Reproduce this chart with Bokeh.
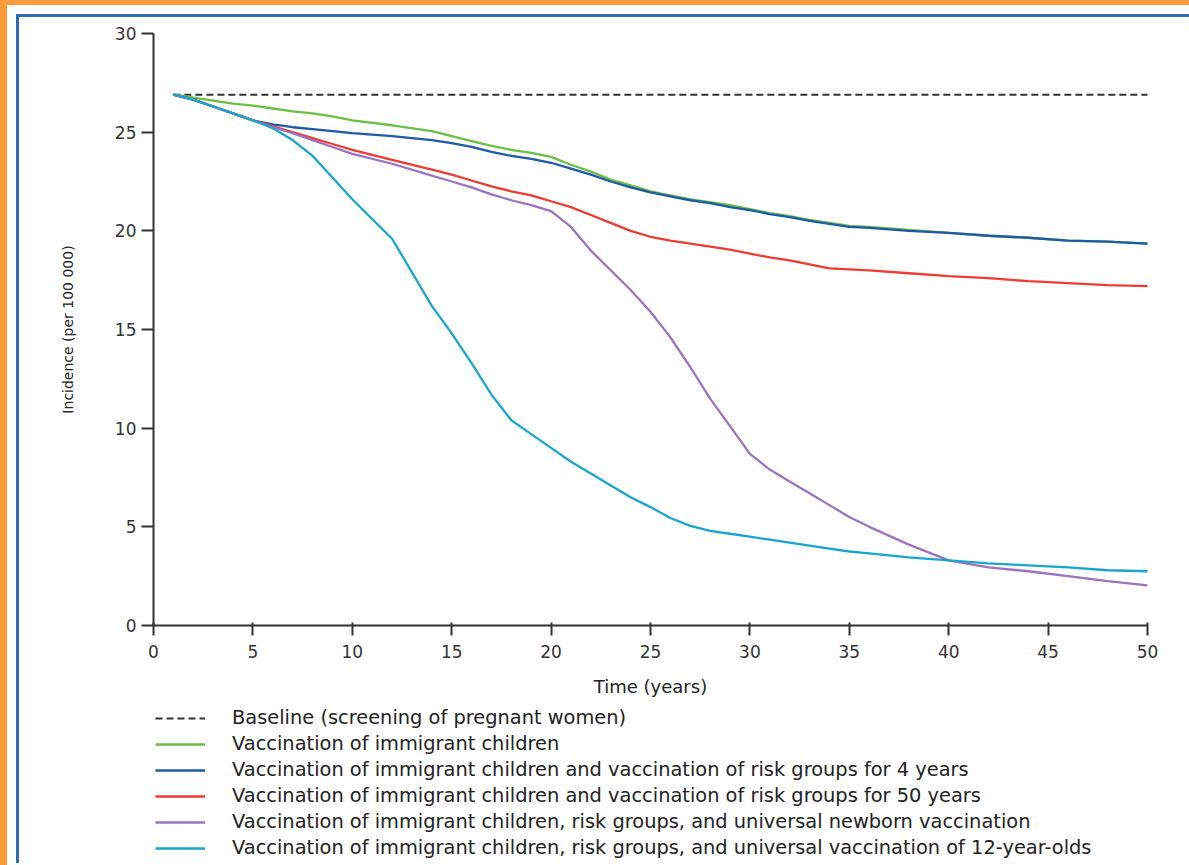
import math
from bokeh.plotting import figure
from bokeh.models import Range1d, FixedTicker, Legend, LegendItem, Label
from bokeh.embed import file_html
from bokeh.resources import INLINE

# ---- data ----
years = [1, 2, 3, 4, 5, 6, 7, 8, 9, 10, 12, 14, 15, 16, 17, 18, 19, 20, 21, 22, 23,
         24, 25, 26, 27, 28, 29, 30, 31, 32, 33, 34, 35, 36, 38, 40, 42, 44, 46, 48, 50]

baseline_years = [1, 50]
baseline = [26.9, 26.9]

immigrant = [26.9, 26.75, 26.6, 26.45, 26.35, 26.2, 26.05, 25.95, 25.8, 25.6, 25.35, 25.05,
             24.8, 24.55, 24.3, 24.1, 23.95, 23.75, 23.35, 23.0, 22.6, 22.3, 22.0, 21.8,
             21.6, 21.45, 21.3, 21.1, 20.9, 20.75, 20.55, 20.4, 20.25, 20.2, 20.05, 19.9,
             19.75, 19.65, 19.5, 19.45, 19.35]

risk4 = [26.9, 26.65, 26.3, 25.95, 25.6, 25.4, 25.25, 25.15, 25.05, 24.95, 24.8, 24.6,
         24.45, 24.25, 24.0, 23.8, 23.65, 23.45, 23.15, 22.85, 22.5, 22.2, 21.95, 21.75,
         21.55, 21.4, 21.2, 21.05, 20.85, 20.7, 20.5, 20.35, 20.2, 20.15, 20.0, 19.9,
         19.75, 19.65, 19.5, 19.45, 19.35]

risk50 = [26.9, 26.65, 26.3, 25.95, 25.6, 25.3, 25.0, 24.7, 24.4, 24.1, 23.6, 23.1,
          22.85, 22.55, 22.25, 22.0, 21.8, 21.5, 21.2, 20.8, 20.4, 20.0, 19.7, 19.5,
          19.35, 19.2, 19.05, 18.85, 18.65, 18.5, 18.3, 18.1, 18.05, 18.0, 17.85, 17.7,
          17.6, 17.45, 17.35, 17.25, 17.2]

newborn = [26.9, 26.65, 26.3, 25.95, 25.6, 25.25, 24.95, 24.6, 24.25, 23.9, 23.4, 22.8,
           22.5, 22.2, 21.85, 21.55, 21.3, 21.0, 20.2, 19.0, 18.0, 17.0, 15.9, 14.6,
           13.1, 11.5, 10.1, 8.7, 7.9, 7.3, 6.7, 6.1, 5.5, 5.0, 4.1, 3.3,
           2.95, 2.75, 2.5, 2.25, 2.03]

twelve = [26.9, 26.65, 26.3, 25.95, 25.6, 25.2, 24.6, 23.8, 22.7, 21.6, 19.6, 16.2,
          14.8, 13.3, 11.7, 10.4, 9.7, 9.0, 8.3, 7.7, 7.1, 6.5, 6.0, 5.45,
          5.05, 4.8, 4.65, 4.5, 4.35, 4.2, 4.05, 3.9, 3.75, 3.65, 3.45, 3.3,
          3.15, 3.05, 2.95, 2.8, 2.75]

labels = [
    "Baseline (screening of pregnant women)",
    "Vaccination of immigrant children",
    "Vaccination of immigrant children and vaccination of risk groups for 4 years",
    "Vaccination of immigrant children and vaccination of risk groups for 50 years",
    "Vaccination of immigrant children, risk groups, and universal newborn vaccination",
    "Vaccination of immigrant children, risk groups, and universal vaccination of 12-year-olds",
]
x_title = "Time (years)"
y_title = "Incidence (per 100 000)"
x_ticks = [0, 5, 10, 15, 20, 25, 30, 35, 40, 45, 50]
y_ticks = [0, 5, 10, 15, 20, 25, 30]

colors = ["#333333", "#6bbf45", "#1e5aa8", "#ee3b33", "#9a74be", "#1aa6cc"]

FONT = "DejaVu Sans"

# The frame is widened around the 0-50 / 0-30 data area so that the axes
# (fixed at 0), their labels and the legend all lie inside it.
p = figure(frame_width=1110, frame_height=839,
           x_range=Range1d(-4.879, 50.956), y_range=Range1d(-11.858, 30.659),
           output_backend="svg", toolbar_location=None,
           min_border_left=37, min_border_top=3,
           min_border_right=23, min_border_bottom=4,
           background_fill_color="white", border_fill_color="white")
# blue inner frame line, white gap and orange outer edge as in the reference
p.styles = {"margin-left": "16px", "margin-top": "14px",
            "border-left": "3px solid #2e6db4", "border-top": "3px solid #2e6db4",
            "box-shadow": "0 0 0 9px #ffffff, 0 0 0 16px #f99b38"}
p.grid.visible = False
p.outline_line_color = None

for ax in (p.xaxis[0], p.yaxis[0]):
    ax.axis_line_width = 2
    ax.axis_line_color = "#333333"
    ax.major_tick_line_width = 2
    ax.major_tick_line_color = "#333333"
    ax.minor_tick_line_color = None
    ax.major_label_text_font = FONT
    ax.major_label_text_color = "#333333"
    ax.fixed_location = 0

p.xaxis.bounds = (0, 50)
p.yaxis.bounds = (0, 30)
p.xaxis.ticker = FixedTicker(ticks=x_ticks)
p.yaxis.ticker = FixedTicker(ticks=y_ticks)
p.xaxis.major_tick_in = 3
p.xaxis.major_tick_out = 10
p.yaxis.major_tick_in = 0
p.yaxis.major_tick_out = 12
p.xaxis.major_label_text_font_size = "17px"
p.yaxis.major_label_text_font_size = "17px"
p.xaxis.major_label_standoff = 9
p.yaxis.major_label_standoff = 5

p.add_layout(Label(x=25, y=-3.09, text=x_title, text_align="center",
                   text_baseline="middle", text_font=FONT, text_font_size="18px",
                   text_color="#222222"))
p.add_layout(Label(x=-4.28, y=15, text=y_title, angle=math.pi / 2, text_align="center",
                   text_baseline="middle", text_font=FONT, text_font_size="14px",
                   text_color="#222222"))

r0 = p.line(baseline_years, baseline, line_color=colors[0], line_width=2, line_dash="7 4")
series = [immigrant, risk4, risk50, newborn, twelve]
rends = [r0]
for s, c in zip(series, colors[1:]):
    rends.append(p.line(years, s, line_color=c, line_width=2.3))

legend = Legend(items=[LegendItem(label=l, renderers=[r]) for l, r in zip(labels, rends)],
                location=(99, 0), orientation="vertical",
                glyph_width=50, glyph_height=20, label_height=20, spacing=3,
                label_standoff=27, padding=0, margin=0,
                border_line_color=None, background_fill_alpha=0,
                label_text_font=FONT, label_text_font_size="19.4px",
                label_text_color="#222222")
p.add_layout(legend, "center")

open("out.html", "w").write(file_html(p, INLINE))
